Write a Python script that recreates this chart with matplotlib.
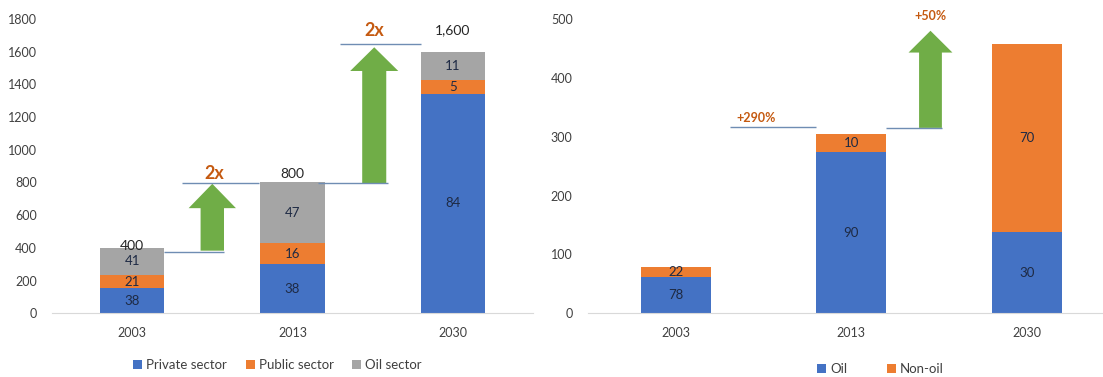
import matplotlib.pyplot as plt
from matplotlib.patches import FancyArrow

plt.rcParams['font.family'] = ['Lato', 'DejaVu Sans']

years = ['2003', '2013', '2030']

# GDP split (% shares of the total)
gdp_totals = [400, 800, 1600]
private_pct = [38, 38, 84]
public_pct = [21, 16, 5]
oil_sector_pct = [41, 47, 11]
gdp_total_labels = ['400', '800', '1,600']

# government revenue split (% shares of the total)
revenue_totals = [78, 305, 458]
oil_pct = [78, 90, 30]
non_oil_pct = [22, 10, 70]

BLUE = '#4472C4'
ORANGE = '#ED7D31'
GREY = '#A5A5A5'
GREEN = '#70AD47'
NOTE = '#C55A11'
LINE = '#6F8DB3'
TICK = '#404040'
LABEL = '#1E2A44'

fig = plt.figure(figsize=(11.03, 3.77), dpi=100)
ax1 = fig.add_axes([0.0471, 0.169, 0.4361, 0.7806])
ax2 = fig.add_axes([0.533, 0.169, 0.467, 0.7806])


def style(ax, ymax, step, xmax):
    ax.set_xlim(-0.5, xmax)
    ax.set_ylim(0, ymax)
    ax.set_yticks(range(0, ymax + 1, step))
    ax.set_xticks(range(len(years)))
    ax.set_xticklabels(years)
    for s in ['left', 'right', 'top']:
        ax.spines[s].set_visible(False)
    ax.spines['bottom'].set_color('#D9D9D9')
    ax.tick_params(axis='x', length=0, pad=10, labelsize=9, labelcolor=TICK)
    ax.tick_params(axis='y', length=0, pad=11, labelsize=9, labelcolor=TICK)


def stack(ax, totals, shares, colors, names):
    # shares are rounded, so scale each column by the sum of its shares
    sums = [sum(col) for col in zip(*shares)]
    bottom = [0] * len(totals)
    for pct, col, name in zip(shares, colors, names):
        h = [t * p / s for t, p, s in zip(totals, pct, sums)]
        ax.bar(range(len(totals)), h, 0.4, bottom=bottom, color=col, label=name)
        for i, (v, p) in enumerate(zip(h, pct)):
            ax.text(i, bottom[i] + v / 2, str(p), ha='center', va='center',
                    fontsize=9.5, color=LABEL)
        bottom = [a + v for a, v in zip(bottom, h)]


def up_arrow(ax, x, y0, y1, body, head, head_len):
    ax.add_patch(FancyArrow(x, y0, 0, y1 - y0, width=body, head_width=head,
                            head_length=head_len, length_includes_head=True,
                            color=GREEN, lw=0))


# left chart: GDP
style(ax1, 1800, 200, 2.5)
stack(ax1, gdp_totals, [private_pct, public_pct, oil_sector_pct],
      [BLUE, ORANGE, GREY], ['Private sector', 'Public sector', 'Oil sector'])
for i, lab in enumerate(gdp_total_labels):
    ax1.text(i, gdp_totals[i] + [12, 53, 133][i], lab, ha='center', va='center',
             fontsize=10, color='#262626')

ax1.hlines(377, 0.2, 0.572, color=LINE, lw=1)
ax1.hlines(796, 0.31, 0.79, color=LINE, lw=1)
ax1.hlines(796, 1.157, 1.594, color=LINE, lw=1)
ax1.hlines(1645, 1.297, 1.80, color=LINE, lw=1)
up_arrow(ax1, 0.5, 383, 792, 0.146, 0.295, 149)
up_arrow(ax1, 1.51, 796, 1627, 0.15, 0.30, 145)
ax1.text(0.51, 853, '2x', ha='center', va='center', fontsize=13,
         fontweight='bold', color=NOTE)
ax1.text(1.507, 1729, '2x', ha='center', va='center', fontsize=13,
         fontweight='bold', color=NOTE)

# right chart: revenue
style(ax2, 500, 100, 2.435)
stack(ax2, revenue_totals, [oil_pct, non_oil_pct], [BLUE, ORANGE],
      ['Oil', 'Non-oil'])
ax2.hlines(316.5, 0.31, 0.80, color=LINE, lw=1)
ax2.hlines(315, 1.2, 1.52, color=LINE, lw=1)
up_arrow(ax2, 1.452, 315, 480, 0.13, 0.25, 37)
ax2.text(0.46, 331, '+290%', ha='center', va='center', fontsize=9,
         fontweight='bold', color=NOTE)
ax2.text(1.45, 505, '+50%', ha='center', va='center', fontsize=9,
         fontweight='bold', color=NOTE)

leg_kw = dict(loc='center', ncol=3, frameon=False, fontsize=9.5,
              handlelength=0.7, handleheight=0.7, handletextpad=0.3,
              labelcolor=TICK)
h1, l1 = ax1.get_legend_handles_labels()
fig.legend(h1, l1, bbox_to_anchor=(0.2516, 0.0318), columnspacing=1.4, **leg_kw)
h2, l2 = ax2.get_legend_handles_labels()
fig.legend(h2, l2, bbox_to_anchor=(0.798, 0.0212), columnspacing=3.0, **leg_kw)

fig.savefig('out.png', dpi=100)
